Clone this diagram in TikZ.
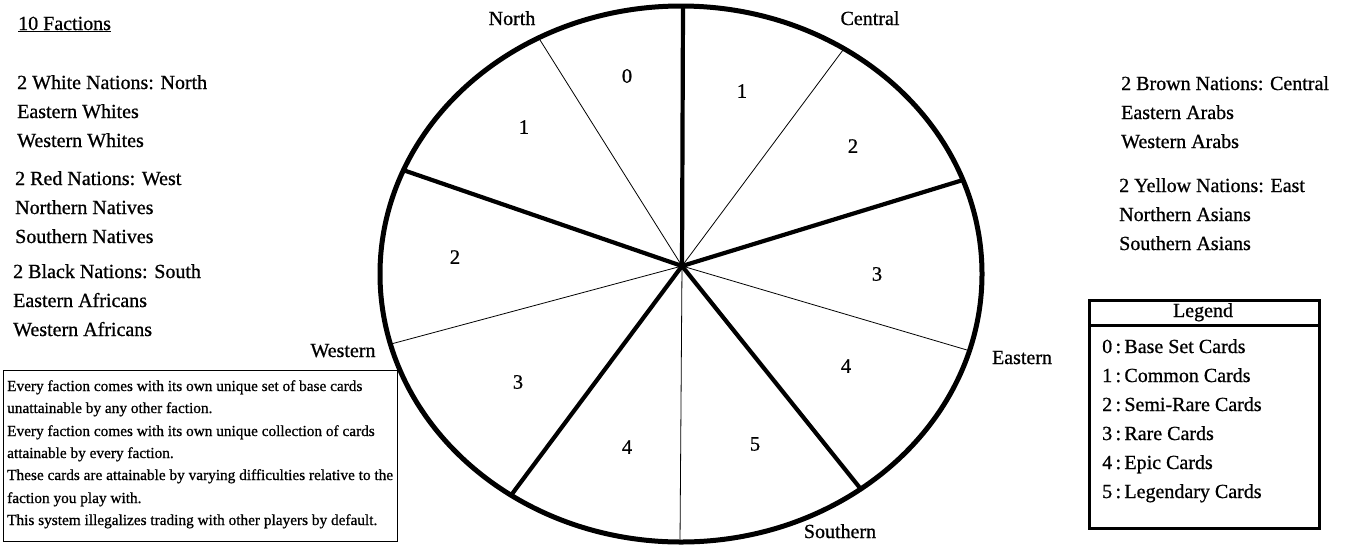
\documentclass[tikz,border=0pt]{standalone}
\usepackage{fontspec}
\setmainfont{Liberation Serif}[FakeBold=0.8]
\begin{document}
\begin{tikzpicture}[x=1pt,y=-1pt,
  txt/.style={anchor=base west,inner sep=0pt,font=\fontsize{20}{24}\selectfont},
  lbl/.style={anchor=base,inner sep=0pt,font=\fontsize{20}{24}\selectfont},
  num/.style={anchor=center,inner sep=0pt,font=\fontsize{20.5}{24}\selectfont},
  small/.style={anchor=base west,inner sep=0pt,font=\fontsize{15.3}{18}\selectfont},
  rim/.style={line width=5pt},
  heavy/.style={line width=4.2pt},
  light/.style={line width=0.8pt},
  boxline/.style={draw,line width=1pt},
  legline/.style={draw,line width=3pt}]
\useasboundingbox (0,0) rectangle (1348,547);
% circle
\draw[rim] (681,274) ellipse [x radius=301pt, y radius=268pt];
\coordinate (hub) at (682,266);
\coordinate (e0) at (683,6);
\coordinate (e1) at (540,40);
\coordinate (e2) at (403,170);
\coordinate (e3) at (391,344);
\coordinate (e4) at (512,494);
\coordinate (e5) at (680,542);
\coordinate (e6) at (860,488);
\coordinate (e7) at (967,350);
\coordinate (e8) at (963,180);
\coordinate (e9) at (843,50);
\draw[heavy] (hub) -- (e0);
\draw[light] (hub) -- (e1);
\draw[heavy] (hub) -- (e2);
\draw[light] (hub) -- (e3);
\draw[heavy] (hub) -- (e4);
\draw[light] (hub) -- (e5);
\draw[heavy] (hub) -- (e6);
\draw[light] (hub) -- (e7);
\draw[heavy] (hub) -- (e8);
\draw[light] (hub) -- (e9);
% numbers
\node[num] (n0) at (627,76) {0};
\node[num] (n1) at (524,127) {1};
\node[num] (n2) at (455,257) {2};
\node[num] (n3) at (518,382) {3};
\node[num] (n4) at (627,447) {4};
\node[num] (n5) at (755,444) {5};
\node[num] (n6) at (846,366) {4};
\node[num] (n7) at (877,274) {3};
\node[num] (n8) at (853,146) {2};
\node[num] (n9) at (742,91) {1};
% direction labels
\node[lbl] (north) at (512,25) {North};
\node[lbl] (central) at (870,25) {Central};
\node[lbl] (western) at (343,357) {Western};
\node[lbl] (eastern) at (1022,364) {Eastern};
\node[lbl] (southern) at (840,538) {Southern};
% left texts
\node[txt] (t0) at (18,30) {\underline{10 Factions}};
\node[txt] (t1) at (17,89) {2 White Nations: North};
\node[txt] (t2) at (17,118) {Eastern Whites};
\node[txt] (t3) at (17,147) {Western Whites};
\node[txt] (t4) at (15,185) {2 Red Nations: West};
\node[txt] (t5) at (15,214) {Northern Natives};
\node[txt] (t6) at (15,243) {Southern Natives};
\node[txt] (t7) at (13,278) {2 Black Nations: South};
\node[txt] (t8) at (13,307) {Eastern Africans};
\node[txt] (t9) at (13,336) {Western Africans};
% right texts
\node[txt] (r1) at (1121,90) {2 Brown Nations: Central};
\node[txt] (r2) at (1121,119) {Eastern Arabs};
\node[txt] (r3) at (1121,148) {Western Arabs};
\node[txt] (r4) at (1119,192) {2 Yellow Nations: East};
\node[txt] (r5) at (1119,221) {Northern Asians};
\node[txt] (r6) at (1119,250) {Southern Asians};
% info box
\node[boxline,anchor=north west,inner sep=0pt,minimum width=394pt,minimum height=171pt] (info) at (3,370) {};
\node[small] (i1) at (7,391) {Every faction comes with its own unique set of base cards};
\node[small] (i2) at (7,413) {unattainable by any other faction.};
\node[small] (i3) at (7,436) {Every faction comes with its own unique collection of cards};
\node[small] (i4) at (7,458) {attainable by every faction.};
\node[small] (i5) at (7,480) {These cards are attainable by varying difficulties relative to the};
\node[small] (i6) at (7,503) {faction you play with.};
\node[small] (i7) at (7,525) {This system illegalizes trading with other players by default.};
% legend
\node[legline,anchor=north west,inner sep=0pt,minimum width=230pt,minimum height=228pt] (legend) at (1088,299) {};
\coordinate (hl) at (1088,325);
\coordinate (hr) at (1318,325);
\draw[line width=3pt] (hl) -- (hr);
\node[lbl] (legt) at (1203,317) {Legend};
\node[txt] (l0) at (1102,353) {0\,:\,Base Set Cards};
\node[txt] (l1) at (1102,382) {1\,:\,Common Cards};
\node[txt] (l2) at (1102,411) {2\,:\,Semi-Rare Cards};
\node[txt] (l3) at (1102,440) {3\,:\,Rare Cards};
\node[txt] (l4) at (1102,469) {4\,:\,Epic Cards};
\node[txt] (l5) at (1102,498) {5\,:\,Legendary Cards};
\end{tikzpicture}
\end{document}
